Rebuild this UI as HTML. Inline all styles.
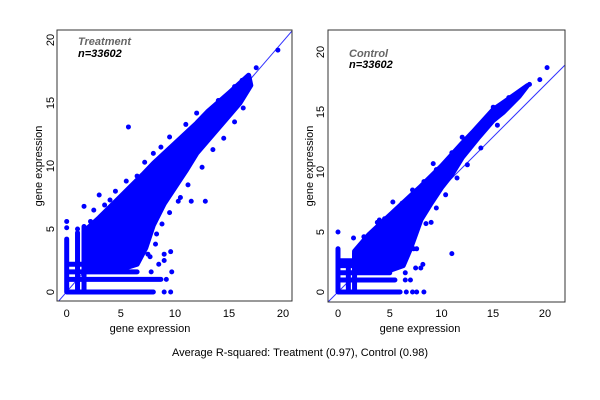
<!DOCTYPE html><html><head><style>body{margin:0;background:#fff}svg{display:block;font-family:"Liberation Sans",sans-serif}</style></head><body>
<svg width="600" height="400" viewBox="0 0 600 400">
<defs><clipPath id="c1"><rect x="57" y="30" width="235" height="271"/></clipPath><clipPath id="c2"><rect x="328" y="30" width="237" height="272"/></clipPath></defs>
<!-- LEFT -->
<g clip-path="url(#c1)">
<line x1="57" y1="303" x2="292" y2="31" stroke="#3333ff" stroke-width="1"/>
<g transform="translate(66.7,292) scale(10.83,-12.6)" fill="#0000ff" stroke="#0000ff" stroke-linejoin="round" stroke-linecap="round">
<path vector-effect="non-scaling-stroke" stroke-width="5" d="M1.6,1.8 L1.6,4.8 L3,5.9 L5,7.6 L7,9.3 L8,10.2 L10,11.8 L12,13.4 L13,14.3 L15,15.8 L16.8,17.2 L17,16.4 L16,15 L15,14 L13.5,12.5 L12,11 L11,9.6 L10,8.3 L9,7 L8,5.3 L7.3,3.5 L6.5,2.2 L5,1.8 Z"/>
<path vector-effect="non-scaling-stroke" stroke-width="5" fill="none" d="M0,0 H8 M0,1 H8.7 M0,1.6 H6.5 M0,2.2 H5 M0,0 V4.2 M1,0 V4.7 M1.6,0 V5.2
M9,0h0M9.6,0h0M9.2,1h0M7.8,1.6h0M9.7,1.6h0M8.5,2.2h0M7.5,3h0M9,3h0M9.6,3.2h0M0,5.1h0M0,5.6h0M1,5h0M1.6,6.8h0M3,7.7h0M4.5,8h0M5.7,13.1h0M12.8,7.2h0M11.5,7.2h0M10.5,7.5h0M19.5,19.2h0M17.5,17.8h0M13,12.5h0M8.7,11.5h0M9,2.5h0M6,4h0M2.5,6.5h0
M2.2,5.6h0M3.5,6.9h0M4,7.3h0M5.5,8.8h0M6.5,9.2h0M7.2,10.3h0M8,11h0M9.5,12.3h0M11,13.3h0M12,14.2h0M14,15.2h0M15.5,16.3h0M16.2,16.8h0
M8.3,4.6h0M8.8,5.4h0M9.5,6.3h0M10.3,7.2h0M11.2,8.5h0M12.5,9.9h0M13.5,11.3h0M14.5,12.2h0M15.5,13.5h0M16.3,14.6h0M7.7,2.8h0M8.2,3.8h0"/>
</g></g>
<rect x="57" y="30" width="235" height="271" fill="none" stroke="#333" stroke-width="1"/>
<g font-size="11" fill="#000" text-anchor="middle">
<text x="66.7" y="317">0</text>
<text x="120.8" y="317">5</text><text x="175" y="317">10</text><text x="229" y="317">15</text><text x="283" y="317">20</text>
<text x="150" y="332">gene expression</text>
<g transform="translate(54,0)"><text transform="translate(0,292) rotate(-90)">0</text><text transform="translate(0,229) rotate(-90)">5</text><text transform="translate(0,166) rotate(-90)">10</text><text transform="translate(0,103) rotate(-90)">15</text><text transform="translate(0,40) rotate(-90)">20</text></g>
<text transform="translate(42,166) rotate(-90)">gene expression</text>
</g>
<text x="78" y="45" font-size="11" font-weight="bold" font-style="italic" fill="#666">Treatment</text>
<text x="78" y="57" font-size="11" font-weight="bold" font-style="italic" fill="#000">n=33602</text>
<!-- RIGHT -->
<g clip-path="url(#c2)">
<line x1="328" y1="302" x2="565" y2="65" stroke="#3333ff" stroke-width="1"/>
<g transform="translate(338,292) scale(10.35,-12)" fill="#0000ff" stroke="#0000ff" stroke-linejoin="round" stroke-linecap="round">
<path vector-effect="non-scaling-stroke" stroke-width="5" d="M1.6,1.8 L1.6,3.4 L3,4.8 L5,6.4 L7,8 L8,8.8 L10,10.5 L12,12.4 L13,13.3 L15,15.2 L17,16.4 L18.3,17.2 L17.5,16.3 L16,15 L15,14.3 L13.5,12.8 L12,11.2 L11,9.8 L10,8.7 L9,7.4 L8,6 L7,3.6 L6.3,2.2 L5,1.8 Z"/>
<path vector-effect="non-scaling-stroke" stroke-width="5" fill="none" d="M0,0 H6 M0,1 H5.5 M0,1.6 H5 M0,2.2 H4.5 M0,2.6 H3.5 M0,0 V3.6 M1,0 V2.6 M1.6,0 V3.2
M6.6,0h0M7.2,0h0M7.6,0h0M8.3,0h0M6.5,1h0M7,1h0M6.5,1.6h0M7.5,2h0M8,2h0M8.2,2.3h0M7.3,3.6h0M0,5h0M1.5,4.5h0M5.3,7.5h0M11,3.2h0M9,5.8h0M18.5,17.3h0M19.5,17.7h0M20.2,18.7h0M9.2,10.7h0M4,6h0
M2.5,4.6h0M3.8,5.8h0M4.5,6.1h0M6.2,7.4h0M7.2,8.5h0M8.3,9.2h0M9.5,10.2h0M11,11.6h0M12,12.9h0M13.5,13.6h0M15,15.4h0M16.5,16.2h0
M8.5,5.7h0M9.5,7h0M10.4,8.1h0M11.5,9.5h0M12.5,10.6h0M13.8,12h0M15.4,13.9h0M7.6,3.6h0"/>
</g></g>
<rect x="328" y="30" width="237" height="272" fill="none" stroke="#333" stroke-width="1"/>
<g font-size="11" fill="#000" text-anchor="middle">
<text x="338" y="317">0</text><text x="389.8" y="317">5</text><text x="441.5" y="317">10</text><text x="493" y="317">15</text><text x="545" y="317">20</text>
<text x="420" y="332">gene expression</text>
<g transform="translate(324,0)"><text transform="translate(0,292) rotate(-90)">0</text><text transform="translate(0,232) rotate(-90)">5</text><text transform="translate(0,172) rotate(-90)">10</text><text transform="translate(0,112) rotate(-90)">15</text><text transform="translate(0,52) rotate(-90)">20</text></g>
<text transform="translate(313,166) rotate(-90)">gene expression</text>
</g>
<text x="349" y="57" font-size="11" font-weight="bold" font-style="italic" fill="#666">Control</text>
<text x="349" y="68" font-size="11" font-weight="bold" font-style="italic" fill="#000">n=33602</text>
<text x="300" y="356" font-size="11" text-anchor="middle">Average R-squared: Treatment (0.97), Control (0.98)</text>
</svg></body></html>
